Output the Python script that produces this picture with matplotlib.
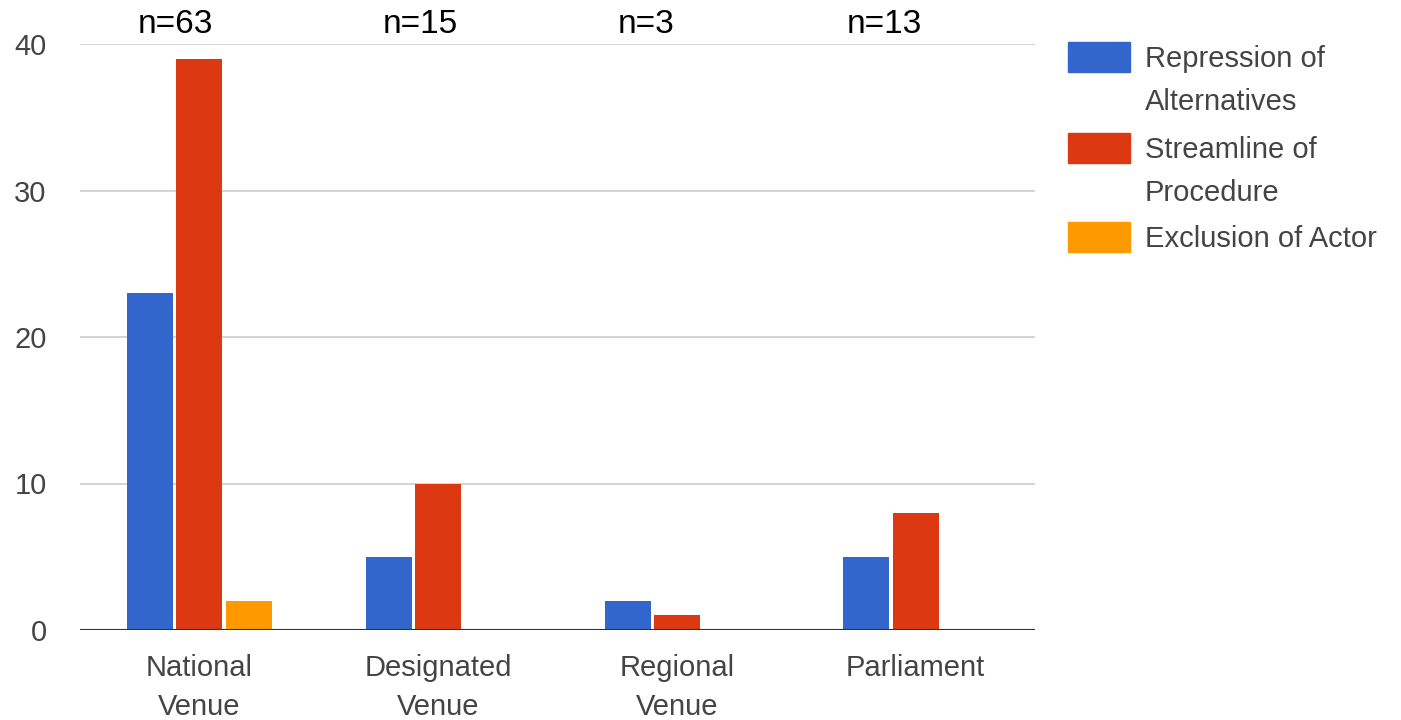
import numpy as np
import matplotlib.pyplot as plt
from matplotlib.patches import Rectangle

plt.rcParams['font.family'] = ['Liberation Sans', 'DejaVu Sans']

categories = ['National\nVenue', 'Designated\nVenue', 'Regional\nVenue', 'Parliament']
n_labels = ['n=63', 'n=15', 'n=3', 'n=13']
n_shift = [-0.1, -0.075, -0.13, -0.13]
series_names = ['Repression of\nAlternatives', 'Streamline of\nProcedure', 'Exclusion of Actor']
repression = [23, 5, 2, 5]
streamline = [39, 10, 1, 8]
exclusion = [2, 0, 0, 0]
colors = ['#3366CC', '#DC3912', '#FF9900']

fig = plt.figure(figsize=(14.01, 7.2), dpi=100)
ax = fig.add_axes([80 / 1401, 90 / 720, 955 / 1401, 586 / 720])

x = np.arange(len(categories))
w = 0.193
step = 0.206
for i, vals in enumerate([repression, streamline, exclusion]):
    ax.bar(x + (i - 1) * step, vals, width=w, color=colors[i], zorder=3)

ax.set_xlim(-0.5, 3.5)
ax.set_ylim(0, 40)
ax.set_yticks([0, 10, 20, 30, 40])
ax.grid(axis='y', color='#cccccc', linewidth=1.2, zorder=0)
ax.axhline(0, color='#333333', linewidth=1.5, zorder=4)
for s in ax.spines.values():
    s.set_visible(False)
ax.tick_params(axis='both', length=0, labelsize=21, labelcolor='#444444')
ax.tick_params(axis='y', pad=24)
ax.tick_params(axis='x', pad=17)
ax.set_xticks(x)
ax.set_xticklabels(categories, linespacing=1.52)

# n counts above each group
for xi, dx, lab in zip(x, n_shift, n_labels):
    ax.text(xi + dx, 40.75, lab, ha='center', va='baseline', fontsize=24,
            color='black', clip_on=False)

# legend drawn by hand
lx = 1068
row_y = [42, 133, 222]
for c, name, ry in zip(colors, series_names, row_y):
    fig.patches.append(Rectangle((lx / 1401, 1 - (ry + 30) / 720), 62 / 1401, 30 / 720,
                                 transform=fig.transFigure, color=c))
    fig.text(1145 / 1401, 1 - (ry + 3) / 720, name, ha='left', va='top',
             fontsize=21, color='#444444', linespacing=1.7)

fig.savefig('out.png', dpi=100)
